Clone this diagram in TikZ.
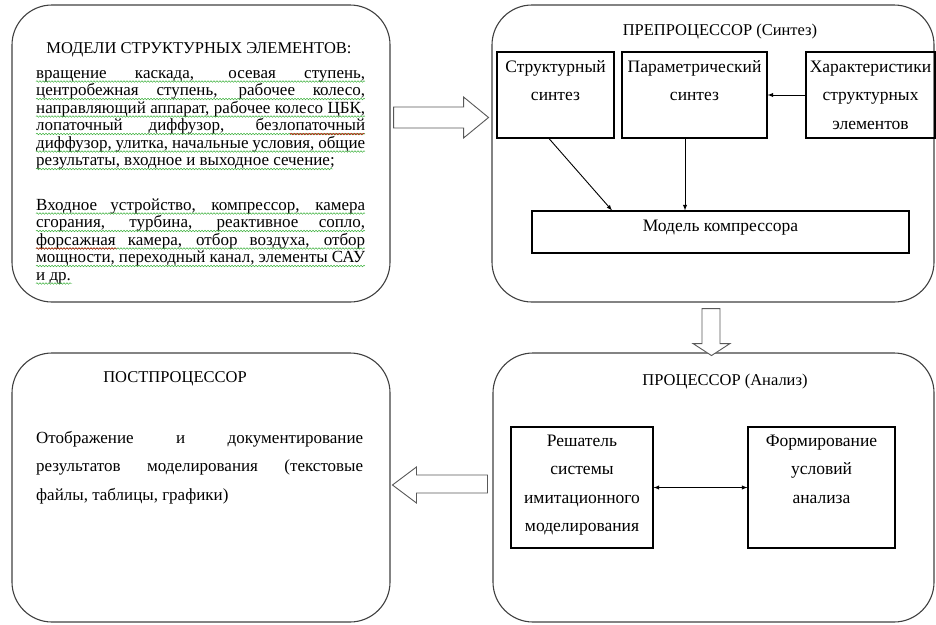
\documentclass[tikz,border=0pt]{standalone}
\usepackage{fontspec}
\setmainfont{Liberation Serif}
\usetikzlibrary{decorations.pathmorphing}

\hyphenpenalty=10000
\tolerance=10000

\tikzset{
  block/.style={draw=black!75, line width=1.1pt, rounded corners=40pt, inner sep=0pt},
  cell/.style={draw, line width=1.1pt, inner sep=0pt},
  celltext/.style={anchor=base, align=center, inner sep=0pt, font=\fontsize{17.5}{28.5}\selectfont},
  heading/.style={anchor=base, inner sep=0pt, font=\fontsize{16.5}{18}\selectfont},
  bodytext/.style={anchor=base west, align=justify, inner sep=0pt, font=\fontsize{17}{17.5}\selectfont},
  link/.style={-latex, line width=0.9pt},
  hollow/.style={draw=black!65, line width=0.9pt, fill=white},
  squiggle/.style={draw=green!60!black!80, line width=0.45pt, decorate,
    decoration={snake, amplitude=0.8pt, segment length=3pt}},
}

\begin{document}
\begin{tikzpicture}[x=1pt, y=-1pt]
\useasboundingbox (0,0) rectangle (936,624);

% blocks
\node[block, minimum width=378pt, minimum height=297pt] (models) at (201,153.5) {};
\node[block, minimum width=442pt, minimum height=297pt] (pre) at (713,153.5) {};
\node[block, minimum width=378pt, minimum height=269pt] (post) at (201,487.5) {};
\node[block, minimum width=441pt, minimum height=269pt] (proc) at (713.5,487.5) {};

% models of elements
\node[heading] (modtitle) at (199,53) {МОДЕЛИ СТРУКТУРНЫХ ЭЛЕМЕНТОВ:};
\node[bodytext, text width=329pt] (modlist) at (36,78) {вращение каскада, осевая ступень,\linebreak
центробежная ступень, рабочее колесо,\linebreak
направляющий аппарат, рабочее колесо ЦБК,\linebreak
лопаточный диффузор, безлопаточный\linebreak
диффузор, улитка, начальные условия, общие\linebreak
результаты, входное и выходное сечение;};
\node[bodytext, text width=329pt] (unitlist) at (36,210) {Входное устройство, компрессор, камера\linebreak
сгорания, турбина, реактивное сопло,\linebreak
форсажная камера, отбор воздуха, отбор\linebreak
мощности, переходный канал, элементы САУ\linebreak
и~др.};
\foreach \yy/\xe in {78/365, 95.5/365, 113/365, 130.5/365, 148/365, 165.5/333,
                     210/365, 227.5/365, 245/365, 262.5/365, 280/72}
  \draw[squiggle] (36,\yy+3.5) -- (\xe,\yy+3.5);
\draw[squiggle, draw=red!80!black] (290,134) -- (365,134);
\draw[squiggle, draw=red!80!black] (36,248.5) -- (117,248.5);

% preprocessor
\node[heading] (pretitle) at (720,35) {ПРЕПРОЦЕССОР (Синтез)};
\node[cell, minimum width=117pt, minimum height=86pt] (struct) at (555.5,95) {};
\node[cell, minimum width=145pt, minimum height=86pt] (param) at (694.5,95) {};
\node[cell, minimum width=129pt, minimum height=86pt] (charac) at (870.5,95) {};
\node[cell, minimum width=377pt, minimum height=42pt] (model) at (720.5,232) {};
\node[celltext, text width=117pt] at ([yshift=-21pt]struct.north) {Структурный\\синтез};
\node[celltext, text width=145pt] at ([yshift=-21pt]param.north) {Параметрический\\синтез};
\node[celltext, text width=129pt] at ([yshift=-21pt]charac.north) {Характеристики\\структурных\\элементов};
\node[celltext] at ([yshift=-21pt]model.north) {Модель компрессора};
\draw[link] ([xshift=-6.5pt]struct.south) -- ([xshift=-108.5pt]model.north);
\draw[link] ([xshift=-9.5pt]param.south) -- ([xshift=-9.5pt]param.south |- model.north);
\draw[link] (charac.west) -- (param.east);

% processor
\node[heading] (proctitle) at (725,385) {ПРОЦЕССОР (Анализ)};
\node[cell, minimum width=142pt, minimum height=121pt] (solver) at (582,487.5) {};
\node[cell, minimum width=147pt, minimum height=121pt] (cond) at (821.5,487.5) {};
\node[celltext, text width=142pt] at ([yshift=-20pt]solver.north) {Решатель\\системы\\имитационного\\моделирования};
\node[celltext, text width=147pt] at ([yshift=-20pt]cond.north) {Формирование\\условий\\анализа};
\draw[latex-latex, line width=0.9pt] (solver.east) -- (cond.west);

% postprocessor
\node[heading] (posttitle) at (175,382) {ПОСТПРОЦЕССОР};
\node[bodytext, text width=327pt, font=\fontsize{17}{28.5}\selectfont] (postlist) at (36,443)
  {Отображение и документирование\linebreak
  результатов моделирования (текстовые\linebreak
  файлы, таблицы, графики)};

% hollow arrows between blocks
\draw[hollow] (models.east |- 0,107) ++(3,0) -- ++(70,0) -- ++(0,-10) -- ++(25,20.5)
  -- ++(-25,20.5) -- ++(0,-10) -- ++(-70,0) -- cycle;
\draw[hollow] (pre.south -| 702,0) ++(0,6) -- ++(0,35) -- ++(-9,0) -- ++(18.5,12)
  -- ++(18.5,-12) -- ++(-10,0) -- ++(0,-35) -- cycle;
\draw[hollow] (proc.west |- 0,475) ++(-5,0) -- ++(-71,0) -- ++(0,-8) -- ++(-24,18)
  -- ++(24,18) -- ++(0,-10) -- ++(71,0) -- cycle;
\end{tikzpicture}
\end{document}
